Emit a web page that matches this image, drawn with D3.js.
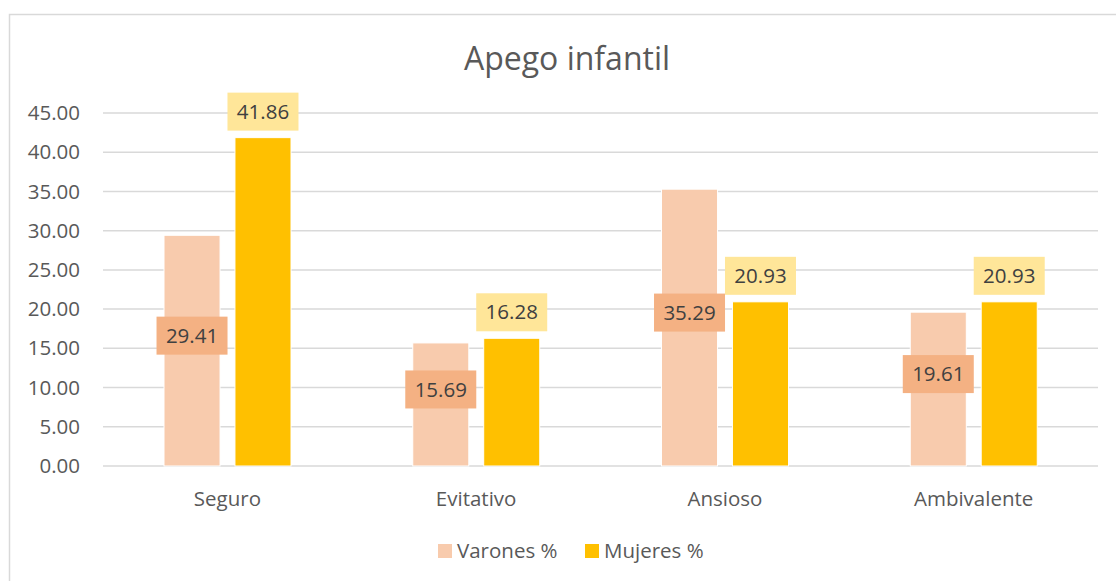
<!DOCTYPE html>
<html>
<head>
<meta charset="utf-8">
<script src="https://d3js.org/d3.v7.min.js"></script>
<style>
  body { margin: 0; background: #fff; }
  text { font-family: "Open Sans", sans-serif; fill: #595959; }
</style>
</head>
<body>
<div id="cnv"></div>
<script>
var categories = ["Seguro", "Evitativo", "Ansioso", "Ambivalente"];
var varones = [29.41, 15.69, 35.29, 19.61];
var mujeres = [41.86, 16.28, 20.93, 20.93];
var seriesNames = ["Varones %", "Mujeres %"];
var yTicks = [0, 5, 10, 15, 20, 25, 30, 35, 40, 45];

var width = 1116, height = 581;
var margin = {top: 113, right: 18, bottom: 115, left: 103},
    graphWidth = width - margin.left - margin.right,
    graphHeight = height - margin.top - margin.bottom;

var svg = d3.select("#cnv").append("svg")
  .attr("width", width)
  .attr("height", height);

// chart border
svg.append("rect")
  .attr("x", 9.5).attr("y", 14.5)
  .attr("width", 1130).attr("height", 600)
  .attr("fill", "none")
  .attr("stroke", "#d9d9d9")
  .attr("stroke-width", 1.5);

svg.append("text")
  .attr("x", 567).attr("y", 70)
  .attr("text-anchor", "middle")
  .style("font-size", "32px")
  .text("Apego infantil");

var g = svg.append("g")
  .attr("transform", "translate(" + margin.left + "," + margin.top + ")");

var xScale = d3.scaleBand().domain(categories).range([0, graphWidth]);
var yScale = d3.scaleLinear().domain([0, 45]).range([graphHeight, 0]);
var inner = d3.scaleBand().domain([0, 1]).range([61, 188]).paddingInner(0.21);

// gridlines
g.selectAll(".grid").data(yTicks).enter().append("line")
  .attr("x1", 0).attr("x2", graphWidth)
  .attr("y1", function(d){ return yScale(d); })
  .attr("y2", function(d){ return yScale(d); })
  .attr("stroke", "#d9d9d9")
  .attr("stroke-width", 1.5);

// y axis labels
var yAxis = g.append("g").call(d3.axisLeft(yScale).tickValues(yTicks).tickSize(0).tickPadding(23).tickFormat(d3.format(".2f")));
yAxis.select(".domain").remove();
yAxis.selectAll("text").style("font-size", "20.5px").attr("fill", "#595959");

// x axis labels
var xAxis = g.append("g")
  .attr("transform", "translate(0," + graphHeight + ")")
  .call(d3.axisBottom(xScale).tickSize(0).tickPadding(25));
xAxis.select(".domain").remove();
xAxis.selectAll("text").style("font-size", "20.5px").attr("fill", "#595959");

var colors = ["#F8CBAD", "#FFC000"];
var labelFill = ["#F4B183", "#FFE699"];
var series = [varones, mujeres];

series.forEach(function(vals, s) {
  g.selectAll(".bar" + s).data(vals).enter().append("rect")
    .attr("x", function(d, i){ return xScale(categories[i]) + inner(s); })
    .attr("y", function(d){ return yScale(d); })
    .attr("width", inner.bandwidth())
    .attr("height", function(d){ return graphHeight - yScale(d); })
    .attr("fill", colors[s])
    .attr("stroke", "#fff")
    .attr("stroke-width", 1);
});

var boxW = 71, boxH = 38;
function labelCenterY(d, s) {
  if (s === 0) return (yScale(d) + graphHeight) / 2 - 15;
  return yScale(d) - 7 - boxH / 2;
}

series.forEach(function(vals, s) {
  var lab = g.selectAll(".lab" + s).data(vals).enter().append("g")
    .attr("transform", function(d, i){
      var cx = xScale(categories[i]) + inner(s) + inner.bandwidth() / 2;
      return "translate(" + cx + "," + labelCenterY(d, s) + ")";
    });
  lab.append("rect")
    .attr("x", -boxW / 2).attr("y", -boxH / 2)
    .attr("width", boxW).attr("height", boxH)
    .attr("fill", labelFill[s]);
  lab.append("text")
    .attr("text-anchor", "middle")
    .attr("dy", "0.35em")
    .style("font-size", "20.5px")
    .style("fill", "#404040")
    .text(function(d){ return d.toFixed(2); });
});

// legend
var legendX = [438, 585];
seriesNames.forEach(function(name, s) {
  svg.append("rect")
    .attr("x", legendX[s]).attr("y", 544)
    .attr("width", 14).attr("height", 14)
    .attr("fill", colors[s]);
  svg.append("text")
    .attr("x", legendX[s] + 19).attr("y", 551)
    .attr("dy", "0.35em")
    .style("font-size", "20.5px")
    .text(name);
});
</script>
</body>
</html>
